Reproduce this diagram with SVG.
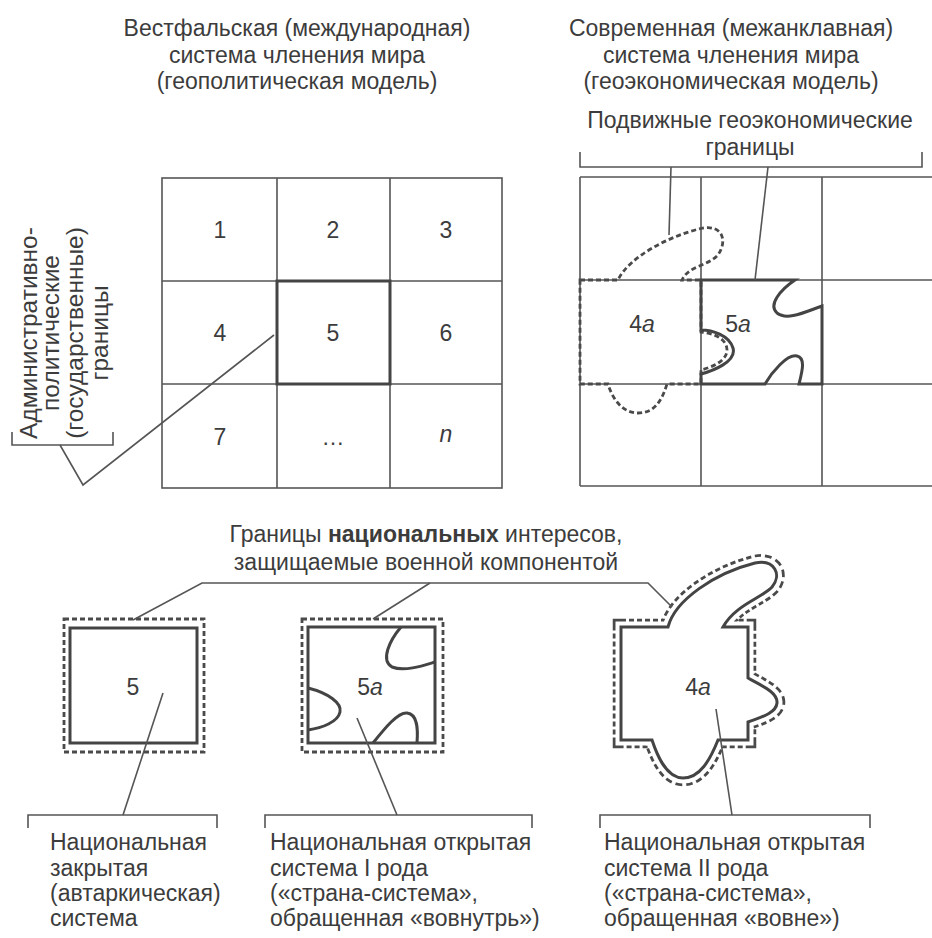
<svg xmlns="http://www.w3.org/2000/svg" xmlns:xlink="http://www.w3.org/1999/xlink" width="932" height="938" viewBox="0 0 932 938">
<style>
.ln{stroke:#555;stroke-width:1.6;fill:none}
.thick{stroke:#444;stroke-width:3;fill:none}
.dash{stroke:#4a4a4a;stroke-width:2.8;stroke-dasharray:5 3;fill:none}
.t{font-family:"Liberation Sans",Arial,sans-serif;font-size:23px;fill:#3c3c3c}
.v{font-size:24.5px}
.c{text-anchor:middle}
.i{font-style:italic}
</style>
<defs>
<path id="shape4a" d="M621,627 L668,627 C675,600 715,573 755,563 C775,559 782,575 772,587 C762,598 735,605 723,627 L748,627 L748,678 C760,685 778,692 777,703 C776,714 758,718 748,722 L748,740 L718,740 C710,760 700,778 683,778 C667,778 658,758 652,740 L621,740 Z"/>
</defs>
<rect width="932" height="938" fill="#fff"/>

<g id="titles">
<text class="t c" x="297" y="36">Вестфальская (международная)</text>
<text class="t c" x="297" y="63">система членения мира</text>
<text class="t c" x="297" y="89">(геополитическая модель)</text>
<text class="t c" x="731" y="36">Современная (межанклавная)</text>
<text class="t c" x="731" y="63">система членения мира</text>
<text class="t c" x="731" y="89">(геоэкономическая модель)</text>
</g>

<g id="westphalian-grid">
<rect class="ln" x="162" y="178" width="340" height="310"/>
<path class="ln" d="M277,178 V488 M390,178 V488 M162,281 H502 M162,384 H502"/>
<rect class="thick" x="277" y="281" width="113" height="103"/>
<text class="t c" x="220" y="238">1</text>
<text class="t c" x="333" y="238">2</text>
<text class="t c" x="446" y="238">3</text>
<text class="t c" x="220" y="341">4</text>
<text class="t c" x="333" y="341">5</text>
<text class="t c" x="446" y="341">6</text>
<text class="t c" x="220" y="445">7</text>
<text class="t c" x="333" y="445">…</text>
<text class="t c i" x="446" y="442">n</text>
</g>

<g id="label-admin">
<text class="t c v" transform="translate(37,333) rotate(-90)">Административно-</text>
<text class="t c v" transform="translate(59,333) rotate(-90)">политические</text>
<text class="t c v" transform="translate(83,333) rotate(-90)">(государственные)</text>
<text class="t c v" transform="translate(108,333) rotate(-90)">границы</text>
</g>

<g id="modern-grid">
<path class="ln" d="M580,177 H932 M580,280 H932 M580,384 H932 M580,486 H932 M580,177 V486 M701,177 V486 M822,177 V486"/>
</g>

<g id="enclave-4a">
<path class="dash" stroke-width="3" stroke-dasharray="6 3" d="M580,280 L618,280 C628,258 668,236 703,228 C722,225 728,240 718,255 C708,266 688,266 682,280 L701,280 L701,332 C712,333 727,338 727,350 C727,361 712,367 701,370 L701,384 L667,384 C662,400 655,413 638,413 C622,413 612,398 608,384 L580,384 Z"/>
<text class="t c" x="642" y="332">4<tspan class="i">a</tspan></text>
</g>

<g id="enclave-5a">
<path class="thick" d="M701,280 L795,280 C780,290 768,305 777,313 C787,321 805,312 822,306 L822,384 L799,384 C802,372 806,358 797,356 C787,354 772,372 765,384 L701,384 L701,374 C712,371 737,362 733,348 C729,335 712,330 701,330 Z"/>
<text class="t c" x="738" y="332">5<tspan class="i">a</tspan></text>
</g>

<g id="label-mobile">
<text class="t c" x="750" y="128">Подвижные геоэкономические</text>
<text class="t c" x="750" y="155">границы</text>
</g>

<g id="label-national">
<text class="t c" x="426" y="542" font-size="22.5">Границы <tspan font-weight="bold">национальных</tspan> интересов,</text>
<text class="t c" x="426" y="570" font-size="22.5">защищаемые военной компонентой</text>
</g>

<g id="node-closed">
<rect class="dash" x="64" y="619" width="140" height="133"/>
<rect class="thick" x="70" y="628" width="127" height="115"/>
<text class="t c" x="133" y="695">5</text>
</g>

<g id="node-open1">
<rect class="dash" x="302" y="619" width="141" height="133"/>
<rect class="thick" x="308" y="627" width="127" height="116"/>
<path class="thick" d="M401,627 C390,640 380,660 392,667 C405,672 425,665 435,662 M308,688 C328,693 342,703 340,712 C338,722 322,728 308,730 M373,743 C385,728 398,712 407,713 C418,714 418,730 417,743"/>
<text class="t c" x="370" y="695">5<tspan class="i">a</tspan></text>
</g>

<g id="node-open2">
<use xlink:href="#shape4a" fill="none" stroke="#4a4a4a" stroke-width="16.5" stroke-dasharray="5 3"/>
<use xlink:href="#shape4a" fill="#fff" stroke="#fff" stroke-width="11"/>
<use xlink:href="#shape4a" class="thick"/>
<text class="t c" x="698" y="695">4<tspan class="i">a</tspan></text>
</g>

<g id="captions">
<text class="t" x="50" y="850">Национальная</text>
<text class="t" x="50" y="875.5">закрытая</text>
<text class="t" x="50" y="901">(автаркическая)</text>
<text class="t" x="50" y="926">система</text>
<text class="t" x="270" y="850">Национальная открытая</text>
<text class="t" x="270" y="875.5">система I рода</text>
<text class="t" x="270" y="901">(«страна-система»,</text>
<text class="t" x="270" y="926">обращенная «вовнутрь»)</text>
<text class="t" x="604" y="850">Национальная открытая</text>
<text class="t" x="604" y="875.5">система II рода</text>
<text class="t" x="604" y="901">(«страна-система»,</text>
<text class="t" x="604" y="926">обращенная «вовне»)</text>
</g>

<g id="connectors">
<path class="ln" d="M12,432 V445 H113 V432"/>
<path class="ln" d="M60,445 L83,485 L274,335"/>
<path class="ln" d="M580,152 V167 H922 V152"/>
<path class="ln" d="M671,167 L669,235"/>
<path class="ln" d="M768,167 L755,280"/>
<path class="ln" d="M133,620 L202,583 H648 L672,607"/>
<path class="ln" d="M373,619 L430,583"/>
<path class="ln" d="M28,828 V815 H217 V828"/>
<path class="ln" d="M265,828 V815 H532 V828"/>
<path class="ln" d="M600,828 V815 H870 V828"/>
<path class="ln" d="M163,693 L123,815"/>
<path class="ln" d="M357,718 L397,815"/>
<path class="ln" d="M716,709 L732,815"/>
</g>
</svg>
